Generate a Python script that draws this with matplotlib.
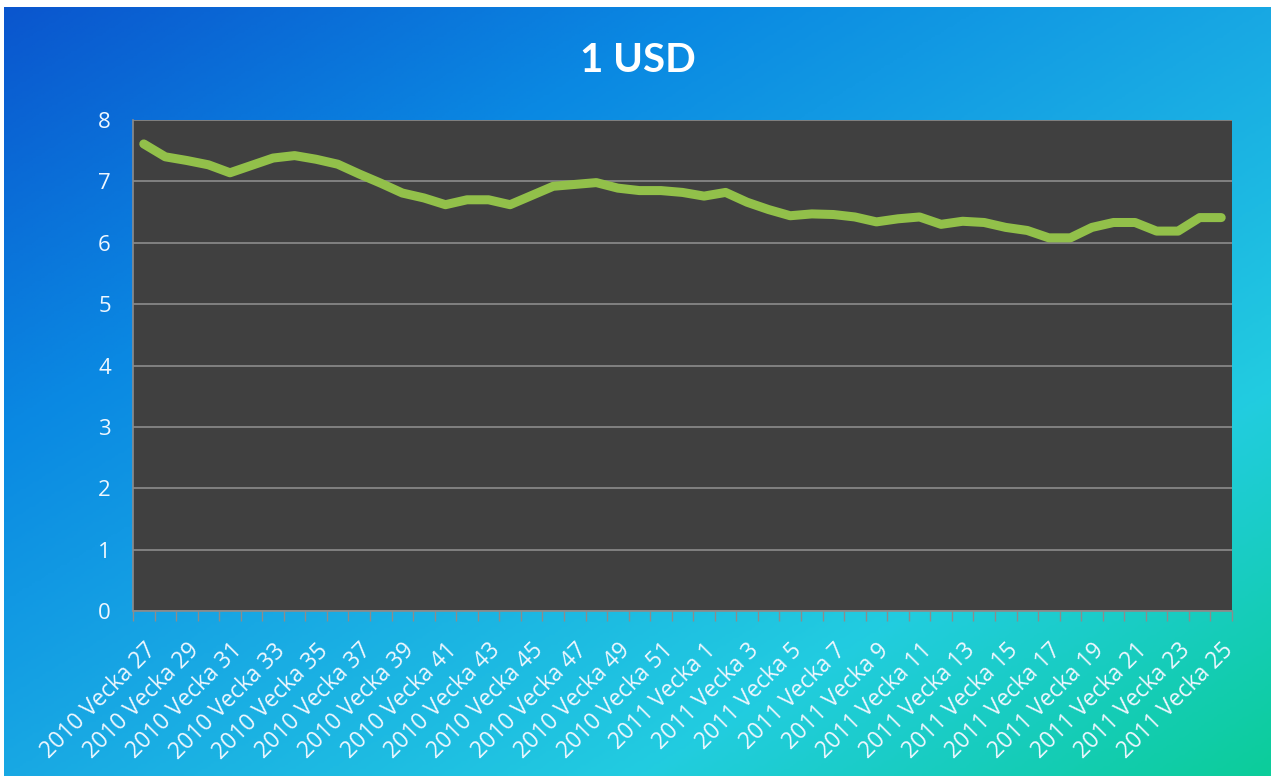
import numpy as np
import matplotlib.pyplot as plt
from matplotlib.colors import LinearSegmentedColormap

# weekly rate, 2010 week 27 .. 2011 week 25
weeks_2010 = list(range(27, 53))
weeks_2011 = list(range(1, 26))
labels = ["2010 Vecka %d" % w for w in weeks_2010] + ["2011 Vecka %d" % w for w in weeks_2011]
usd = [7.61, 7.40, 7.34, 7.27, 7.14, 7.26, 7.38, 7.42, 7.36, 7.28,
       7.12, 6.97, 6.81, 6.73, 6.62, 6.70, 6.70, 6.62, 6.77, 6.92,
       6.95, 6.98, 6.89, 6.85, 6.85, 6.82, 6.76, 6.82, 6.66, 6.54,
       6.44, 6.47, 6.46, 6.42, 6.34, 6.39, 6.42, 6.30, 6.35, 6.33,
       6.25, 6.20, 6.08, 6.08, 6.25, 6.33, 6.33, 6.19, 6.19, 6.41,
       6.41]
yticks = [0, 1, 2, 3, 4, 5, 6, 7, 8]

W, H = 1271, 776
fig = plt.figure(figsize=(W / 100, H / 100), dpi=100)
fig.patch.set_facecolor("white")

# diagonal blue -> cyan -> teal backdrop
bg = fig.add_axes([4 / W, 0, 1 - 4 / W, 1 - 7 / H], zorder=0)
cmap = LinearSegmentedColormap.from_list(
    "bg", [(0.0, "#0a56ce"), (0.27, "#0a88e2"), (0.5, "#18a8e4"),
           (0.75, "#22cce0"), (1.0, "#0ccd9a")])
gx, gy = np.meshgrid(np.linspace(0, 1, 400), np.linspace(0, 1, 300))
bg.imshow((gx + gy) / 2, cmap=cmap, aspect="auto", extent=[0, 1, 1, 0])
bg.axis("off")

ax = fig.add_axes([133 / W, 1 - 611 / H, (1232 - 133) / W, (611 - 120) / H], zorder=1)
ax.set_facecolor("#404040")
x = np.arange(len(usd))
ax.plot(x, usd, color="#92c04a", lw=6.5, solid_capstyle="round", solid_joinstyle="round", zorder=3)

ax.set_xlim(-0.5, len(usd) - 0.5)
ax.set_ylim(0, 8)
ax.set_yticks(yticks)
ax.grid(axis="y", color="#8c8c8c", lw=1.2)
ax.set_axisbelow(True)

lab_color = "#eef7ff"
ax.set_xticks(x[::2])
ax.set_xticklabels(labels[::2], rotation=45, ha="right", rotation_mode="anchor",
                   family="Open Sans", fontsize=16.5, color=lab_color)
ax.set_xticks(np.arange(-0.5, len(usd)), minor=True)
ax.tick_params(axis="x", which="major", length=0, pad=20)
ax.tick_params(axis="x", which="minor", length=7, color="#8c8c8c", width=1)
ax.tick_params(axis="y", length=0, pad=16, labelcolor=lab_color, labelsize=16)
for t in ax.get_yticklabels():
    t.set_family("Open Sans")

for side in ["top", "right"]:
    ax.spines[side].set_visible(False)
for side in ["left", "bottom"]:
    ax.spines[side].set_color("#8c8c8c")
    ax.spines[side].set_linewidth(1.2)

fig.text(0.502, 1 - 60 / H, "1 USD", ha="center", va="center", color="white",
         fontsize=29, fontweight="bold", family="Lato")

fig.savefig("out.png", dpi=100, facecolor=fig.get_facecolor())
